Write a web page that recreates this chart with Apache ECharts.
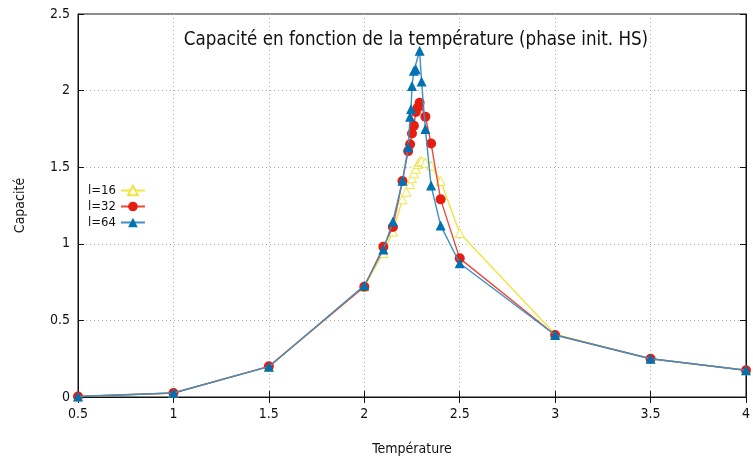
<!DOCTYPE html>
<html>
<head>
<meta charset="utf-8">
<script src="https://cdn.jsdelivr.net/npm/echarts@6/dist/echarts.min.js"></script>
<style>html,body{margin:0;padding:0;background:#fff}#c{width:753px;height:461px}</style>
</head>
<body>
<div id="c"></div>
<script>
var chartTitle = 'Capacité en fonction de la température (phase init. HS)';
var xName = 'Température';
var yName = 'Capacité';
var seriesNames = ['l=16', 'l=32', 'l=64'];

var temps16 = [0.5, 1, 1.5, 2, 2.1, 2.15, 2.2, 2.22, 2.24, 2.25, 2.26, 2.27, 2.28, 2.29, 2.3, 2.32, 2.35, 2.4, 2.5, 3, 3.5, 4];
var cap16   = [0.003, 0.026, 0.198, 0.72, 0.94, 1.08, 1.29, 1.34, 1.39, 1.43, 1.46, 1.49, 1.52, 1.535, 1.54, 1.53, 1.51, 1.41, 1.07, 0.41, 0.25, 0.175];

var temps32 = [0.5, 1, 1.5, 2, 2.1, 2.15, 2.2, 2.23, 2.24, 2.25, 2.26, 2.27, 2.28, 2.29, 2.32, 2.35, 2.4, 2.5, 3, 3.5, 4];
var cap32   = [0.003, 0.026, 0.2, 0.72, 0.98, 1.11, 1.41, 1.605, 1.65, 1.72, 1.77, 1.86, 1.89, 1.92, 1.83, 1.655, 1.29, 0.905, 0.405, 0.25, 0.175];

var temps64 = [0.5, 1, 1.5, 2, 2.1, 2.15, 2.2, 2.23, 2.24, 2.245, 2.25, 2.26, 2.27, 2.29, 2.3, 2.32, 2.35, 2.4, 2.5, 3, 3.5, 4];
var cap64   = [0.003, 0.026, 0.198, 0.728, 0.963, 1.146, 1.411, 1.63, 1.83, 1.88, 2.03, 2.13, 2.14, 2.26, 2.06, 1.75, 1.38, 1.12, 0.873, 0.405, 0.25, 0.175];

function pairs(xs, ys){ return xs.map(function(x,i){ return [x, ys[i]]; }); }

var FONT = 'DejaVu Sans Condensed';
var chart = echarts.init(document.getElementById('c'));
var gridLine = {show:true, lineStyle:{color:'#a8a8a8', type:[1,3], width:1}};
chart.setOption({
  animation:false,
  backgroundColor:'#fff',
  textStyle:{fontFamily:FONT},
  title:{text:chartTitle, left:411, top:26, textAlign:'center',
    textStyle:{fontFamily:FONT, fontSize:18.6, fontWeight:'normal', color:'#111'}},
  legend:{
    orient:'vertical', left:83, top:179, align:'right', itemGap:3,
    itemWidth:24, itemHeight:12,
    textStyle:{fontFamily:FONT, fontSize:13, color:'#111'},
    data:seriesNames
  },
  grid:{left:78, right:5, top:14, bottom:61, show:true, borderColor:'#111', borderWidth:1},
  xAxis:[{
    type:'value', min:0.5, max:4, interval:0.5,
    name:xName, nameLocation:'middle', nameGap:45,
    nameTextStyle:{fontFamily:FONT, fontSize:14, color:'#111'},
    axisLine:{show:true, lineStyle:{color:'#111'}},
    axisTick:{show:true, inside:true, length:6, lineStyle:{color:'#111'}},
    axisLabel:{fontFamily:FONT, fontSize:14, color:'#111', margin:10},
    splitLine:gridLine
  },{
    type:'value', position:'top', min:0.5, max:4, interval:0.5,
    axisLine:{show:true, lineStyle:{color:'#111'}},
    axisTick:{show:true, inside:true, length:6, lineStyle:{color:'#111'}},
    axisLabel:{show:false}, splitLine:{show:false}
  }],
  yAxis:[{
    type:'value', min:0, max:2.5, interval:0.5,
    name:yName, nameLocation:'middle', nameGap:51, nameRotate:90,
    nameTextStyle:{fontFamily:FONT, fontSize:14, color:'#111'},
    axisLine:{show:true, lineStyle:{color:'#111'}},
    axisTick:{show:true, inside:true, length:6, lineStyle:{color:'#111'}},
    axisLabel:{fontFamily:FONT, fontSize:14, color:'#111', margin:8},
    splitLine:gridLine
  },{
    type:'value', position:'right', min:0, max:2.5, interval:0.5,
    axisLine:{show:true, lineStyle:{color:'#111'}},
    axisTick:{show:true, inside:true, length:6, lineStyle:{color:'#111'}},
    axisLabel:{show:false}, splitLine:{show:false}
  }],
  series:[
    {name:seriesNames[0], type:'line', data:pairs(temps16, cap16),
      symbol:'triangle', symbolSize:9, showAllSymbol:true,
      itemStyle:{color:'#fff', borderColor:'#f0e442', borderWidth:1},
      lineStyle:{color:'#f0e442', width:1.4}, z:2},
    {name:seriesNames[1], type:'line', data:pairs(temps32, cap32),
      symbol:'circle', symbolSize:10, showAllSymbol:true,
      itemStyle:{color:'#e51e10'}, lineStyle:{color:'#ec4a3a', width:1.4}, z:3},
    {name:seriesNames[2], type:'line', data:pairs(temps64, cap64),
      symbol:'triangle', symbolSize:10, showAllSymbol:true,
      itemStyle:{color:'#0072b2'}, lineStyle:{color:'#3d8fc6', width:1.4}, z:4}
  ]
});
</script>
</body>
</html>
